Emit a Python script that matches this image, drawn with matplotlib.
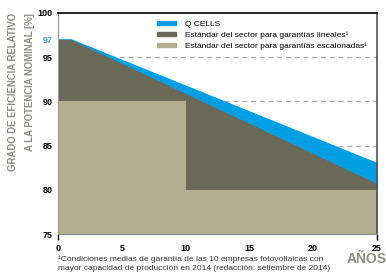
import matplotlib
matplotlib.use('Agg')
import matplotlib.pyplot as plt
from matplotlib.patches import Patch
import numpy as np

plt.rcParams['font.family'] = ['Liberation Sans', 'DejaVu Sans']

# data
years_q = [0, 1, 25]
q_cells = [97, 97, 83]
years_lin = [0, 1, 25]
linear_std = [97, 97, 80.7]
years_step = [0, 10, 10, 25]
step_std = [90, 90, 80, 80]
yticks = [75, 80, 85, 90, 95, 97, 100]
xticks = [0, 5, 10, 15, 20, 25]
labels = ['Q CELLS',
          'Estándar del sector para garantías lineales¹',
          'Estándar del sector para garantías escalonadas¹']

blue = '#009fe3'
dark = '#6b6958'
light = '#b3ae8f'
grey = '#8c8c84'

fig = plt.figure(figsize=(3.86, 2.76), dpi=100)
ax = fig.add_axes([58/386, 42/276, 319/386, 221/276])

for y in [85, 90, 95]:
    ax.axhline(y, color='#aaaaaa', lw=0.9, ls=(0, (4, 3)), zorder=0)

ax.fill_between(years_q, 75, q_cells, color=blue, lw=1.2, edgecolor=blue, zorder=1)
ax.fill_between(years_lin, 75, linear_std, color=dark, lw=0, zorder=2)
ax.fill_between(years_step, 75, step_std, color=light, lw=0, zorder=3)

ax.set_xlim(0, 25)
ax.set_ylim(75, 100)
ax.set_xticks(xticks)
ax.set_yticks(yticks)
ax.tick_params(axis='y', length=0, labelsize=6.5, pad=4)
ax.tick_params(axis='x', length=4, width=1, labelsize=6.5, pad=3)
for lab in ax.get_xticklabels() + ax.get_yticklabels():
    lab.set_fontweight('bold')
ax.get_yticklabels()[5].set_color('#3fa9e0')
for i, t in enumerate(ax.xaxis.get_major_ticks()):
    if i not in (0, 5):
        t.tick1line.set_visible(False)

ax.spines['top'].set_color('black')
ax.spines['top'].set_linewidth(1.2)
ax.spines['right'].set_color('#555555')
ax.spines['right'].set_linewidth(1.2)
ax.spines['left'].set_color('#999999')
ax.spines['left'].set_linewidth(0.8)
ax.spines['bottom'].set_color('#7a9090')
ax.spines['bottom'].set_linewidth(0.8)
for s in ax.spines.values():
    s.set_zorder(5)

handles = [Patch(color=c) for c in (blue, dark, light)]
ax.legend(handles, labels, loc='upper left', bbox_to_anchor=(157/386, 1 - 21/276),
          bbox_transform=fig.transFigure, frameon=False, fontsize=6,
          handlelength=2.3, handleheight=0.35, handletextpad=1.1,
          labelspacing=0.4, borderaxespad=0, borderpad=0)

fig.text(13/386, 1 - 13/276, 'GRADO DE EFICIENCIA RELATIVO', rotation=90,
         ha='center', va='top', color=grey, fontsize=6.9, fontweight='bold')
fig.text(30/386, 1 - 13/276, 'A LA POTENCIA NOMINAL [%]', rotation=90,
         ha='center', va='top', color=grey, fontsize=6.9, fontweight='bold')

fig.text(347/386, 1 - 259/276, 'AÑOS', ha='left', va='center', color=grey,
         fontsize=10, fontweight='bold')

fig.text(58/386, 1 - 264/276,
         '¹Condiciones medias de garantía de las 10 empresas fotovoltaicas con\n'
         'mayor capacidad de producción en 2014 (redacción: setiembre de 2014)',
         ha='left', va='center', color='#333333', fontsize=6, linespacing=1.5)

fig.savefig('out.png', dpi=100)
